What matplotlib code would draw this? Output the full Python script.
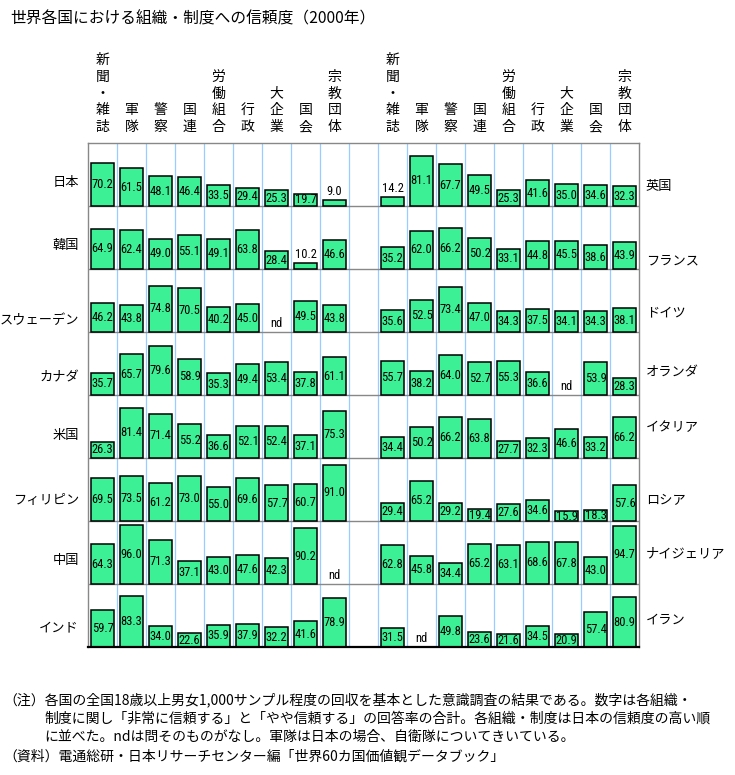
import matplotlib
matplotlib.use('Agg')
import matplotlib.pyplot as plt
import matplotlib.transforms as mtransforms
from matplotlib import font_manager

plt.rcParams['font.family'] = ['Noto Sans CJK JP', 'DejaVu Sans']

# ---- data (None = nd) ----
orgs = ['新聞・雑誌', '軍隊', '警察', '国連', '労働組合', '行政', '大企業', '国会', '宗教団体']

left_countries = ['日本', '韓国', 'スウェーデン', 'カナダ', '米国', 'フィリピン', '中国', 'インド']
right_countries = ['英国', 'フランス', 'ドイツ', 'オランダ', 'イタリア', 'ロシア', 'ナイジェリア', 'イラン']

japan = [70.2, 61.5, 48.1, 46.4, 33.5, 29.4, 25.3, 19.7, 9.0]
korea = [64.9, 62.4, 49.0, 55.1, 49.1, 63.8, 28.4, 10.2, 46.6]
sweden = [46.2, 43.8, 74.8, 70.5, 40.2, 45.0, None, 49.5, 43.8]
canada = [35.7, 65.7, 79.6, 58.9, 35.3, 49.4, 53.4, 37.8, 61.1]
usa = [26.3, 81.4, 71.4, 55.2, 36.6, 52.1, 52.4, 37.1, 75.3]
philippines = [69.5, 73.5, 61.2, 73.0, 55.0, 69.6, 57.7, 60.7, 91.0]
china = [64.3, 96.0, 71.3, 37.1, 43.0, 47.6, 42.3, 90.2, None]
india = [59.7, 83.3, 34.0, 22.6, 35.9, 37.9, 32.2, 41.6, 78.9]

uk = [14.2, 81.1, 67.7, 49.5, 25.3, 41.6, 35.0, 34.6, 32.3]
france = [35.2, 62.0, 66.2, 50.2, 33.1, 44.8, 45.5, 38.6, 43.9]
germany = [35.6, 52.5, 73.4, 47.0, 34.3, 37.5, 34.1, 34.3, 38.1]
netherlands = [55.7, 38.2, 64.0, 52.7, 55.3, 36.6, None, 53.9, 28.3]
italy = [34.4, 50.2, 66.2, 63.8, 27.7, 32.3, 46.6, 33.2, 66.2]
russia = [29.4, 65.2, 29.2, 19.4, 27.6, 34.6, 15.9, 18.3, 57.6]
nigeria = [62.8, 45.8, 34.4, 65.2, 63.1, 68.6, 67.8, 43.0, 94.7]
iran = [31.5, None, 49.8, 23.6, 21.6, 34.5, 20.9, 57.4, 80.9]

left_values = [japan, korea, sweden, canada, usa, philippines, china, india]
right_values = [uk, france, germany, netherlands, italy, russia, nigeria, iran]

# label placement inside each row (fraction down from row top)
left_label_pos = [0.63, 0.63, 0.81, 0.73, 0.65, 0.67, 0.62, 0.70]
right_label_pos = [0.69, 0.88, 0.70, 0.65, 0.52, 0.68, 0.52, 0.57]

# narrow font for the numbers if one is around
fonts = font_manager.fontManager.ttflist
names = {f.name for f in fonts}
num_kw = {'family': 'Liberation Sans', 'fontsize': 8.5}
for cand in ['Liberation Sans Narrow', 'Roboto Condensed', 'Open Sans Condensed',
             'Noto Sans Condensed', 'DejaVu Sans Condensed']:
    if cand in names:
        num_kw = {'family': cand, 'fontsize': 9}
        break
else:
    if any(f.name == 'DejaVu Sans' and f.stretch == 'condensed' for f in fonts):
        num_kw = {'family': 'DejaVu Sans', 'fontstretch': 'condensed', 'fontsize': 8.5}

W, Hpx = 735, 775
fig = plt.figure(figsize=(W / 100, Hpx / 100), dpi=100)
ax = fig.add_axes([88 / W, 128 / Hpx, 551 / W, 504 / Hpx])

H = 102.0
nrows = len(left_countries)
ncols = 2 * len(orgs) + 1
ax.set_xlim(0, ncols)
ax.set_ylim(0, nrows * H)

for x in range(1, ncols):
    ax.axvline(x, color='#99ccff', lw=0.9, zorder=1)
for k in range(1, nrows):
    ax.axhline(k * H, color='#888888', lw=1.0, zorder=1)
for side in ['left', 'right', 'top']:
    ax.spines[side].set_color('#888888')
    ax.spines[side].set_linewidth(1.0)
ax.spines['bottom'].set_color('black')
ax.spines['bottom'].set_linewidth(1.6)
ax.set_xticks([])
ax.set_yticks([])

def draw_row(vals, row, offset):
    base = (nrows - 1 - row) * H
    for c, v in enumerate(vals):
        xc = offset + c + 0.5
        if v is None:
            ax.text(xc, base + 14.5, 'nd', ha='center', va='center', zorder=4, **num_kw)
            continue
        ax.bar(xc, v, width=0.81, bottom=base, color='#3cf096',
               edgecolor='black', linewidth=1.1, zorder=2)
        if v < 15:
            ty = base + v + 14
        else:
            ty = base + v / 2
        ax.text(xc, ty, f'{v:.1f}', ha='center', va='center', zorder=4, **num_kw)

for r in range(nrows):
    draw_row(left_values[r], r, 0)
    draw_row(right_values[r], r, len(orgs) + 1)

# country labels
trans_fx = mtransforms.blended_transform_factory(fig.transFigure, ax.transData)
for r in range(nrows):
    top = (nrows - r) * H
    ax.text(79 / W, top - left_label_pos[r] * H, left_countries[r], transform=trans_fx,
            ha='right', va='center', fontsize=9.5)
    ax.text(646 / W, top - right_label_pos[r] * H, right_countries[r], transform=trans_fx,
            ha='left', va='center', fontsize=9.5)

# vertical column headers, one character per line
trans_xf = mtransforms.blended_transform_factory(ax.transData, fig.transFigure)
for offset in [0, len(orgs) + 1]:
    for c, name in enumerate(orgs):
        n = len(name)
        for i, ch in enumerate(name):
            ypx = 127 - (n - 1 - i) * 16.7
            ax.text(offset + c + 0.5, 1 - ypx / Hpx, ch, transform=trans_xf,
                    ha='center', va='center', fontsize=10)

fig.text(10 / W, 1 - 19 / Hpx, '世界各国における組織・制度への信頼度（2000年）',
         ha='left', va='center', fontsize=11.3)

notes = [
    (3, 700, '（注）各国の全国18歳以上男女1,000サンプル程度の回収を基本とした意識調査の結果である。数字は各組織・'),
    (44, 719, '制度に関し「非常に信頼する」と「やや信頼する」の回答率の合計。各組織・制度は日本の信頼度の高い順'),
    (44, 737, 'に並べた。ndは問そのものがなし。軍隊は日本の場合、自衛隊についてきいている。'),
    (3, 757, '（資料）電通総研・日本リサーチセンター編「世界60カ国価値観データブック」'),
]
for xpx, ypx, s in notes:
    fig.text(xpx / W, 1 - ypx / Hpx, s, ha='left', va='center', fontsize=10)

fig.savefig('out.png', dpi=100)
